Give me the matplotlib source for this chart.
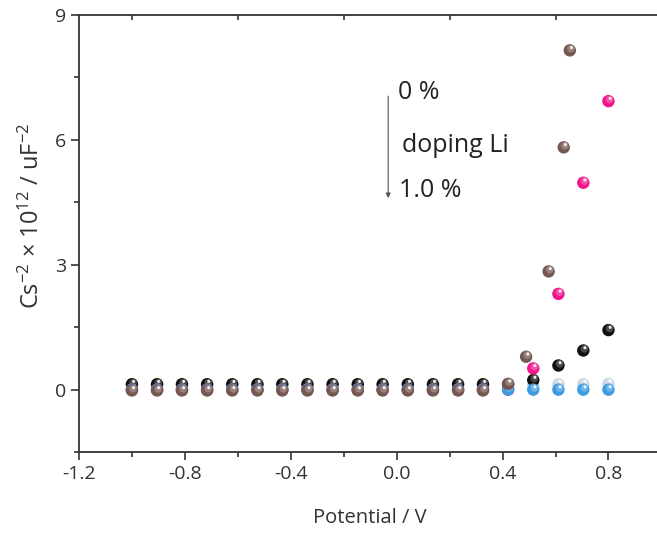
import matplotlib.pyplot as plt
import matplotlib.transforms as mtransforms
from matplotlib.ticker import FixedLocator
import numpy as np

plt.rcParams['font.family'] = ['Open Sans', 'DejaVu Sans']
plt.rcParams['mathtext.fontset'] = 'custom'
plt.rcParams['mathtext.rm'] = 'Open Sans'
plt.rcParams['mathtext.it'] = 'Open Sans'

# potential grid (V)
grid = [-1.0, -0.905, -0.811, -0.716, -0.621, -0.526, -0.432, -0.337, -0.242,
        -0.147, -0.053, 0.042, 0.137, 0.232, 0.326, 0.421, 0.516, 0.611, 0.705, 0.8]

# Cs^-2 x 10^12 for each sample
light_x = grid
light_y = [0.1] * 16 + [0.12, 0.13, 0.13, 0.14]

black_x = grid
black_y = [0.13] * 16 + [0.23, 0.58, 0.94, 1.43]

pink_x = grid
pink_y = [0.0] * 16 + [0.51, 2.30, 4.97, 6.93]

blue_x = grid
blue_y = [0.0] * 20

brown_x = grid[:15] + [0.421, 0.489, 0.574, 0.631, 0.654]
brown_y = [-0.02] * 15 + [0.14, 0.79, 2.84, 5.82, 8.15]

series = [
    (light_x, light_y, '#c9d6e2'),
    (black_x, black_y, '#101010'),
    (pink_x, pink_y, '#f2148a'),
    (blue_x, blue_y, '#3d9be0'),
    (brown_x, brown_y, '#765853'),
]

fig = plt.figure(figsize=(6.57, 5.35), dpi=100)
ax = fig.add_axes([0.1202, 0.155, 0.8865, 0.817])


def ball(ax, x, y, color, z):
    # shaded sphere look: body, lighter cap and a small specular spot
    base = np.array(plt.matplotlib.colors.to_rgb(color))
    ax.scatter(x, y, s=80, color=base, edgecolors='none', zorder=z)
    cap = mtransforms.offset_copy(ax.transData, fig=fig, x=0.8, y=1.2, units='points')
    ax.scatter(x, y, s=30, color=base * 0.55 + 0.45, alpha=0.55, edgecolors='none',
               transform=cap, zorder=z + 0.1)
    spot = mtransforms.offset_copy(ax.transData, fig=fig, x=1.2, y=2.0, units='points')
    ax.scatter(x, y, s=5, color='white', alpha=0.9, edgecolors='none',
               transform=spot, zorder=z + 0.2)


for i, (xs, ys, c) in enumerate(series):
    ball(ax, xs, ys, c, 3 + i)

ax.set_xlim(-1.2, 1.0)
ax.set_ylim(-1.5, 9)

ax.set_xticks([-1.2, -0.8, -0.4, 0.0, 0.4, 0.8])
ax.set_xticklabels(['-1.2', '-0.8', '-0.4', '0.0', '0.4', '0.8'])
ax.xaxis.set_minor_locator(FixedLocator([-1.0, -0.6, -0.2, 0.2, 0.6]))
ax.set_yticks([0, 3, 6, 9])
ax.yaxis.set_minor_locator(FixedLocator([-1.5, 1.5, 4.5, 7.5]))

ax.tick_params(which='major', direction='out', length=6, width=1.2, color='#333333',
               labelsize=14, labelcolor='#333333', pad=3)
ax.tick_params(which='minor', direction='out', length=3.5, width=1.2, color='#333333')

for side in ['left', 'bottom', 'top']:
    ax.spines[side].set_linewidth(1.3)
    ax.spines[side].set_color('#333333')
ax.spines['right'].set_visible(False)

# top ticks point into the plot
top = ax.secondary_xaxis('top')
top.set_xticks([])
top.xaxis.set_minor_locator(FixedLocator([-1.0, -0.6, -0.2, 0.2, 0.6]))
top.tick_params(which='minor', direction='in', length=3.5, width=1.2, color='#333333')
top.spines['top'].set_visible(False)

ax.set_xlabel('Potential / V', fontsize=14.5, color='#333333', labelpad=18)
ax.set_ylabel('Cs$^{-2}$ × 10$^{12}$ / uF$^{-2}$', fontsize=17, color='#333333')
ax.yaxis.set_label_coords(-0.058, 0.54)

ax.annotate('', xy=(-0.032, 4.6), xytext=(-0.032, 7.05),
            arrowprops=dict(arrowstyle='-|>', color='#555555', lw=0.8,
                            mutation_scale=7, shrinkA=0, shrinkB=0))
ax.text(0.004, 7.14, '0 %', fontsize=18, color='#222222', va='center', ha='left')
ax.text(0.022, 5.87, 'doping Li', fontsize=18, color='#222222', va='center', ha='left')
ax.text(0.008, 4.78, '1.0 %', fontsize=18, color='#222222', va='center', ha='left')

fig.savefig('out.png', dpi=100)
